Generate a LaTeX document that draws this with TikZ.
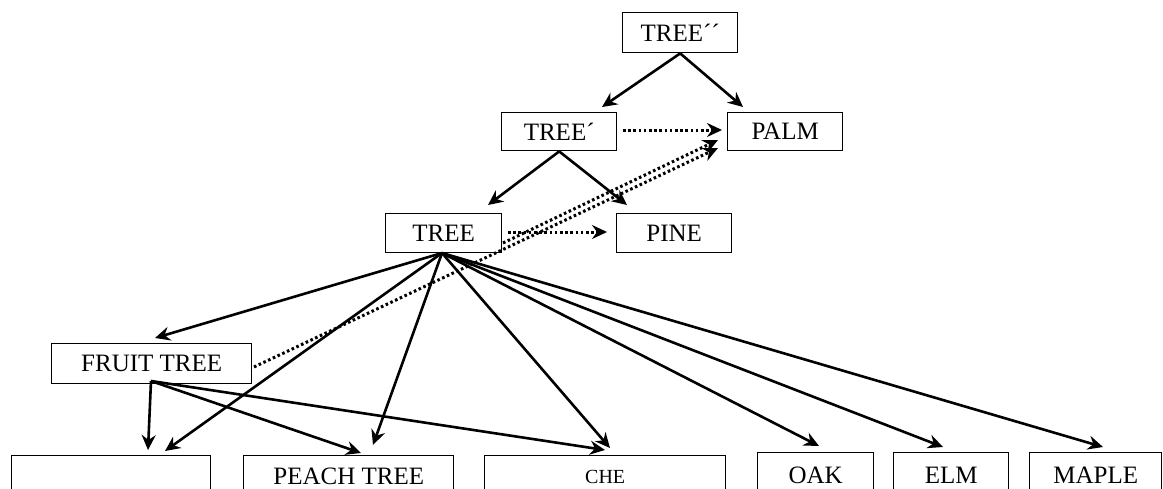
\documentclass[tikz,border=0pt]{standalone}
\usepackage{fontspec}
\setmainfont{Liberation Serif}
\usetikzlibrary{arrows.meta}
\begin{document}
\begin{tikzpicture}[x=1pt,y=-1pt,
  box/.style={draw, line width=1.4pt, anchor=north west, inner sep=0pt, font=\fontsize{25}{29}\selectfont},
  arr/.style={line width=2.6pt, -{Stealth[length=15pt,width=14pt,inset=5pt]}},
  dotarr/.style={line width=3pt, dash pattern=on 2.6pt off 2.6pt, -{Stealth[length=15pt,width=14pt,inset=5pt]}}]
\useasboundingbox (0,0) rectangle (1163,488);
\clip (0,0) rectangle (1163,488);
% boxes
\node[box, minimum width=115pt, minimum height=40pt] (t2) at (622,12) {TREE´´};
\node[box, minimum width=115pt, minimum height=38pt] (t1) at (501,112) {TREE´};
\node[box, minimum width=115pt, minimum height=38pt] (palm) at (727,112) {PALM};
\node[box, minimum width=116pt, minimum height=39pt] (t0) at (385,213) {TREE};
\node[box, minimum width=115pt, minimum height=39pt] (pine) at (616,213) {PINE};
\node[box, minimum width=200pt, minimum height=40pt] (ft) at (51,343) {FRUIT TREE};
\node[box, minimum width=199pt, minimum height=42pt] (b1) at (11,455) {};
\node[box, minimum width=210pt, minimum height=42pt] (peach) at (243,455) {PEACH TREE};
\node[box, minimum width=241pt, minimum height=42pt, font=\fontsize{20}{24}\selectfont] (che) at (484,455) {CHE};
\node[box, minimum width=116pt, minimum height=46pt] (oak) at (757,452) {OAK};
\node[box, minimum width=115pt, minimum height=46pt] (elm) at (893,452) {ELM};
\node[box, minimum width=132pt, minimum height=46pt] (maple) at (1029,452) {MAPLE};
% arrow end points
\coordinate (e21) at (602,107);
\coordinate (e2p) at (743,107);
\coordinate (e10) at (488,205);
\coordinate (e1p) at (627,205);
\coordinate (s0) at (442,253);
\coordinate (sf) at (151,381);
\coordinate (ef) at (155,338);
\coordinate (eb1a) at (165,451);
\coordinate (epa) at (373,445);
\coordinate (eca) at (610,448);
\coordinate (eoak) at (819,446);
\coordinate (eelm) at (943,447);
\coordinate (emap) at (1103,447);
\coordinate (eb1b) at (148,450);
\coordinate (epb) at (361,453);
\coordinate (ecb) at (605,450);
\coordinate (d1s) at (623,130);
\coordinate (d1e) at (722,130);
\coordinate (d2s) at (508,232);
\coordinate (d2e) at (607,232);
\coordinate (d3s) at (254,367);
\coordinate (d3e) at (718,148);
\coordinate (d4s) at (503,243);
\coordinate (d4e) at (718,140);
% solid arrows
\draw[arr] (t2.south) -- (e21);
\draw[arr] (t2.south) -- (e2p);
\draw[arr] (t1.south) -- (e10);
\draw[arr] (t1.south) -- (e1p);
\draw[arr] (s0) -- (ef);
\draw[arr] (s0) -- (eb1a);
\draw[arr] (s0) -- (epa);
\draw[arr] (s0) -- (eca);
\draw[arr] (s0) -- (eoak);
\draw[arr] (s0) -- (eelm);
\draw[arr] (s0) -- (emap);
\draw[arr] (sf) -- (eb1b);
\draw[arr] (sf) -- (epb);
\draw[arr] (sf) -- (ecb);
% dotted arrows
\draw[dotarr] (d1s) -- (d1e);
\draw[dotarr] (d2s) -- (d2e);
\draw[dotarr] (d3s) -- (d3e);
\draw[dotarr] (d4s) -- (d4e);
\end{tikzpicture}
\end{document}
